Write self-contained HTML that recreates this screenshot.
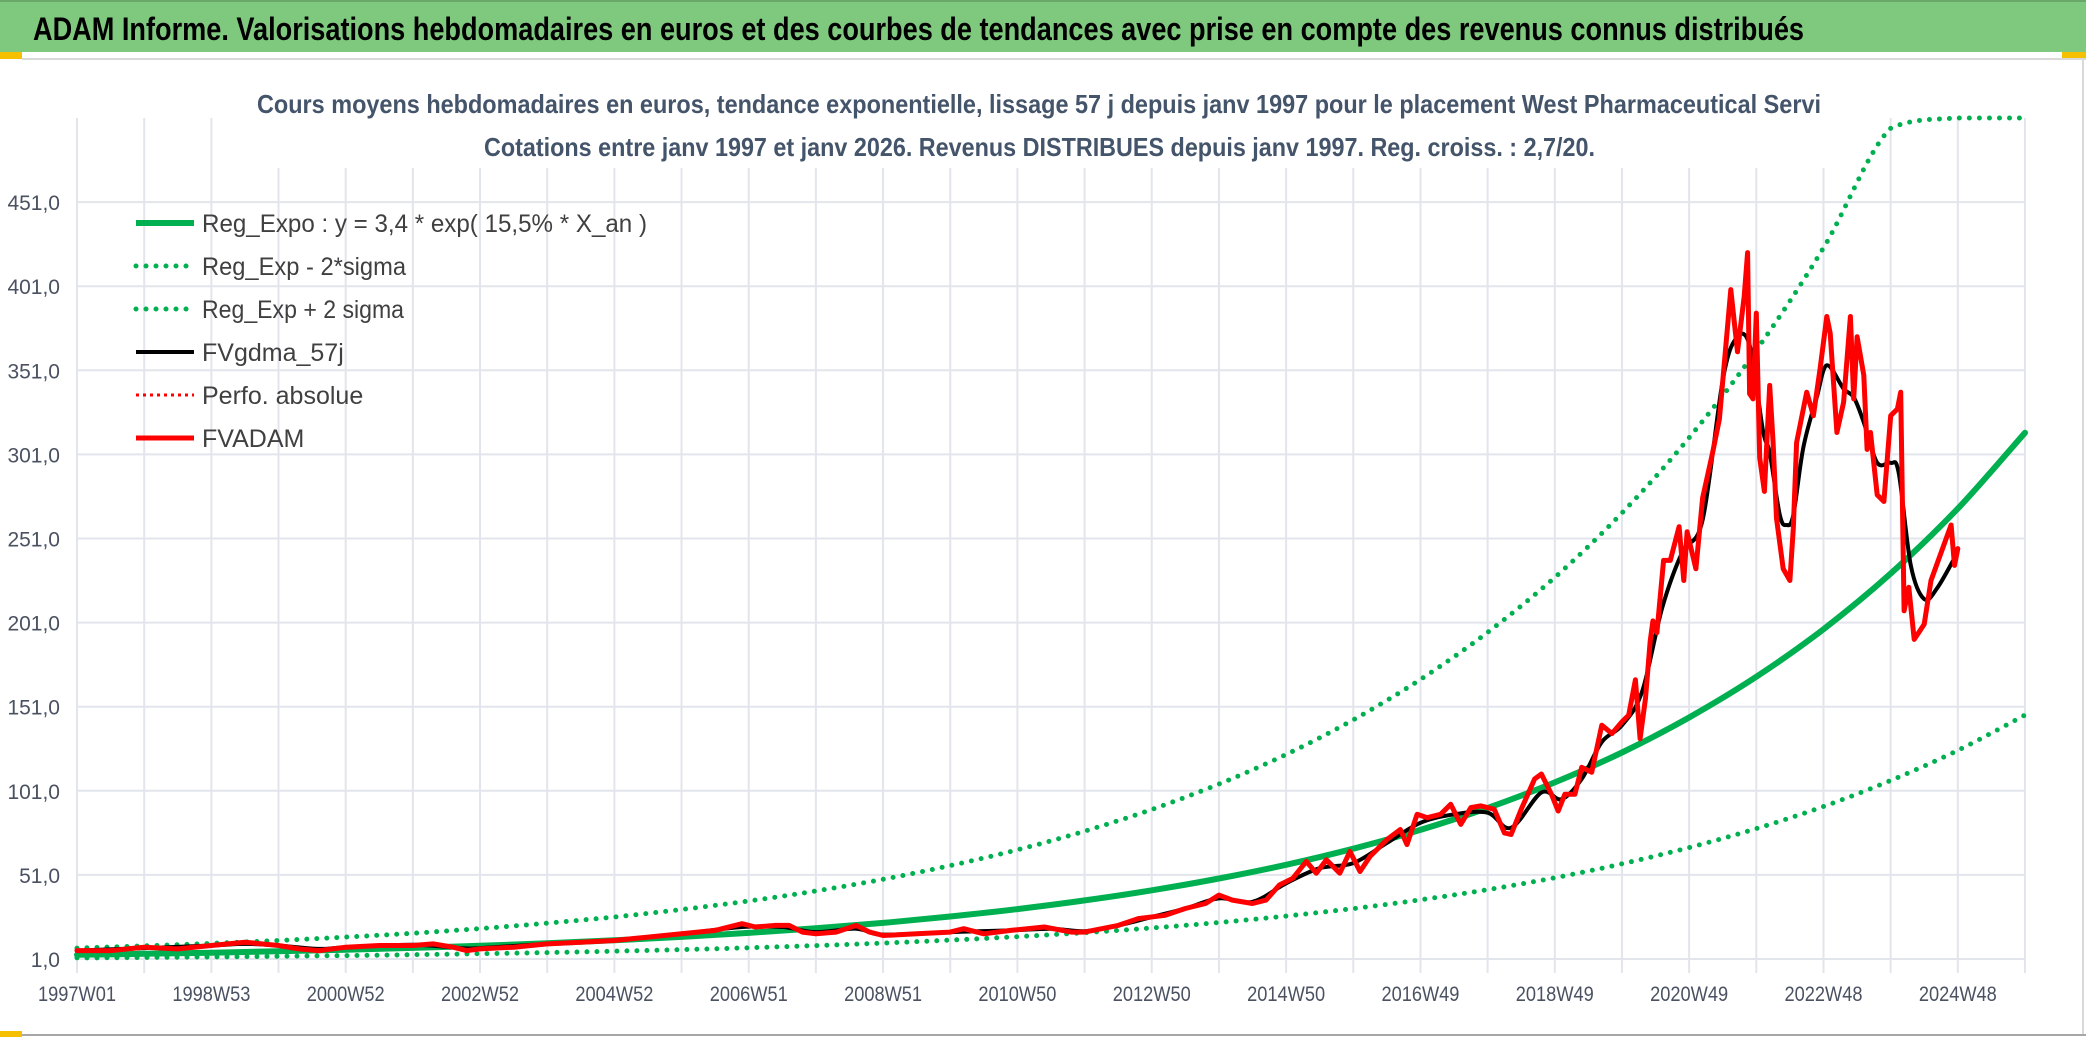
<!DOCTYPE html>
<html><head><meta charset="utf-8"><style>
html,body{margin:0;padding:0;background:#fff;}
svg{display:block;font-family:"Liberation Sans",sans-serif;}
</style></head><body>
<svg id="chart" width="2086" height="1037" viewBox="0 0 2086 1037" xmlns="http://www.w3.org/2000/svg">
  <rect x="0" y="0" width="2086" height="52" fill="#7fc97f"/>
  <line x1="0" y1="1" x2="2086" y2="1" stroke="#6aa86a" stroke-width="2"/>
  <text x="33" y="40" font-size="32" font-weight="bold" fill="#000" textLength="1771" lengthAdjust="spacingAndGlyphs">ADAM Informe. Valorisations hebdomadaires en euros et des courbes de tendances avec prise en compte des revenus connus distribués</text>
  <rect x="0" y="52" width="22" height="7" fill="#f5c000"/>
  <rect x="2062" y="52" width="24" height="7" fill="#f5c000"/>
  <line x1="22" y1="59" x2="2086" y2="59" stroke="#d9d9d9" stroke-width="2"/>
  <line x1="2083" y1="59" x2="2083" y2="1035" stroke="#d9d9d9" stroke-width="2"/>
  <line x1="0" y1="1035" x2="2086" y2="1035" stroke="#a6a6a6" stroke-width="2"/>
  <rect x="0" y="1031" width="22" height="6" fill="#f5c000"/>
  <g id="grid"></g>
  <rect x="250" y="80" width="1580" height="88" fill="#fff"/>
  <text x="257" y="113" font-size="26" font-weight="bold" fill="#44546a" textLength="1564" lengthAdjust="spacingAndGlyphs">Cours moyens hebdomadaires en euros, tendance exponentielle, lissage 57 j depuis janv 1997 pour le placement West Pharmaceutical Servi</text>
  <text x="484" y="156" font-size="26" font-weight="bold" fill="#44546a" textLength="1111" lengthAdjust="spacingAndGlyphs">Cotations entre janv 1997 et janv 2026. Revenus DISTRIBUES depuis janv 1997. Reg. croiss. : 2,7/20.</text>
  <g id="axes"></g>
  <g id="series"></g>
  <g id="legend"></g>
</svg>
<script>
// ---- data ----
const trendYears = [1997,1998,1999,2000,2001,2002,2003,2004,2005,2006,2007,2008,2009,2010,2011,2012,2013,2014,2015,2016,2017,2018,2019,2020,2021,2022,2023,2024,2025,2026];
const trendValues = [3.50,4.09,4.77,5.57,6.51,7.60,8.87,10.36,12.10,14.13,16.50,19.26,22.49,26.27,30.67,35.82,41.82,48.84,57.03,66.59,77.76,90.80,106.0,123.8,144.6,168.8,197.1,230.2,268.8,313.9];
const upperValues = [7.5,8.8,10.3,12.0,14.0,16.3,19.1,22.3,26.0,30.4,35.5,41.4,48.4,56.5,65.9,77.0,89.9,105.0,122.6,143.2,167.2,195.2,227.9,266.2,310.9,362.9,423.8,494.9,577.9,674.9];
const lowerValues = [1.63,1.90,2.22,2.59,3.03,3.53,4.13,4.82,5.63,6.57,7.67,8.96,10.46,12.22,14.27,16.66,19.45,22.72,26.53,30.97,36.17,42.23,49.30,57.58,67.26,78.51,91.67,107.1,125.0,146.0];
const redDates = [1997.0,1997.5,1998.0,1998.5,1999.0,1999.5,2000.0,2000.3,2000.6,2001.0,2001.5,2002.0,2002.3,2002.6,2002.8,2003.0,2003.5,2004.0,2004.5,2005.0,2005.5,2006.0,2006.5,2006.9,2007.1,2007.4,2007.6,2007.8,2008.0,2008.3,2008.6,2008.8,2009.0,2009.5,2010.0,2010.2,2010.5,2010.9,2011.4,2011.8,2012.0,2012.5,2012.8,2013.2,2013.5,2013.8,2014.0,2014.2,2014.5,2014.7,2014.9,2015.1,2015.3,2015.45,2015.6,2015.8,2015.95,2016.1,2016.25,2016.5,2016.7,2016.8,2016.95,2017.1,2017.3,2017.45,2017.6,2017.75,2017.9,2018.1,2018.25,2018.35,2018.5,2018.6,2018.7,2018.8,2018.95,2019.05,2019.15,2019.3,2019.4,2019.55,2019.7,2019.85,2020.0,2020.1,2020.2,2020.27,2020.35,2020.42,2020.46,2020.52,2020.62,2020.72,2020.85,2020.92,2020.97,2021.1,2021.2,2021.35,2021.45,2021.62,2021.72,2021.82,2021.87,2021.9,2021.95,2022.0,2022.05,2022.12,2022.2,2022.25,2022.3,2022.4,2022.5,2022.55,2022.6,2022.75,2022.85,2022.95,2023.05,2023.1,2023.2,2023.3,2023.4,2023.45,2023.5,2023.6,2023.65,2023.7,2023.8,2023.9,2024.0,2024.1,2024.15,2024.2,2024.27,2024.35,2024.5,2024.6,2024.7,2024.9,2024.95,2025.0];
const redValues = [6,6,8,7,9,11,9,7,6,8,9,9,10,8,6,7,8,10,11,12,14,16,18,22,20,21,21,17,16,17,21,17,15,16,17,19,16,18,20,17,17,21,25,27,31,34,39,36,34,36,45,49,59,52,60,52,65,53,62,72,78,69,87,85,87,93,81,91,92,90,76,75,90,99,108,111,99,89,99,99,115,112,140,135,142,146,167,132,156,190,202,195,238,238,258,226,255,233,275,302,322,399,362,395,421,337,334,385,299,279,342,308,263,233,226,257,308,338,324,352,383,373,314,332,383,334,371,348,304,314,277,273,324,328,338,208,222,191,200,226,237,259,235,245];
const blackDates = [1997,1998,1999,1999.5,2000,2000.6,2001,2002,2002.7,2003,2004,2005,2006,2006.9,2007.5,2008,2008.6,2009,2010,2010.9,2011.5,2012,2012.5,2013,2013.5,2014,2014.5,2015,2015.5,2016,2016.5,2017,2017.5,2018,2018.35,2018.8,2019.1,2019.4,2019.7,2020,2020.3,2020.6,2020.9,2021.2,2021.5,2021.7,2021.9,2022.1,2022.2,2022.35,2022.45,2022.55,2022.7,2022.9,2023.05,2023.3,2023.45,2023.6,2023.8,2024.0,2024.12,2024.3,2024.5,2024.7,2025.0];
const blackValues = [6,7.5,9,10,9,7,8,9.5,7.5,7.5,10,12,16,20,20,17,19,15.5,17,18,19,17.5,21,26,31,37,35,46,55,58,70,82,87,88,79,100,96,108,130,140,160,210,243,262,345,370,366,315,302,265,259,265,305,335,354,340,335,320,296,296,290,235,215,222,243];
const yTicks = [1,51,101,151,201,251,301,351,401,451];
const xTickLabels = ["1997W01","1998W53","2000W52","2002W52","2004W52","2006W51","2008W51","2010W50","2012W50","2014W50","2016W49","2018W49","2020W49","2022W48","2024W48"];
const legendLabels = ["Reg_Expo : y = 3,4 * exp( 15,5% *  X_an )","Reg_Exp - 2*sigma","Reg_Exp + 2 sigma","FVgdma_57j","Perfo. absolue","FVADAM"];

// ---- scales ----
const X0 = 77, X1 = 2025, T0 = 1997, T1 = 2026;
const Y0 = 959, VMIN = 1, VMAX = 501, YTOP = 118;
const X = t => X0 + (t - T0) * (X1 - X0) / (T1 - T0);
const Y = v => Y0 - (v - VMIN) * (Y0 - YTOP) / (VMAX - VMIN);
const NS = "http://www.w3.org/2000/svg";
function mk(tag, attrs, parent) {
  const e = document.createElementNS(NS, tag);
  for (const k in attrs) e.setAttribute(k, attrs[k]);
  parent.appendChild(e);
  return e;
}
const grid = document.getElementById('grid');
const axes = document.getElementById('axes');
const series = document.getElementById('series');
const legend = document.getElementById('legend');

// gridlines
for (let yr = T0; yr <= T1; yr++) {
  const l = mk('line', {x1: X(yr), x2: X(yr), y1: YTOP, y2: Y0 + 14, stroke: '#e2e5ec', 'stroke-width': 2}, grid);
  
  
}
yTicks.forEach(v => {
  const l = mk('line', {x1: X0, x2: X1, y1: Y(v), y2: Y(v), stroke: '#e2e5ec', 'stroke-width': 2}, grid);
  
  
  const t = mk('text', {x: 60, y: Y(v) + 8, 'text-anchor': 'end', 'font-size': 21, fill: '#4a5160'}, axes);
  t.textContent = v.toFixed(1).replace('.', ',');
  
  
});
xTickLabels.forEach((s, i) => {
  const t = mk('text', {x: X(T0 + 2 * i), y: 1001, 'text-anchor': 'middle', 'font-size': 21, fill: '#4a5160', textLength: 78, lengthAdjust: 'spacingAndGlyphs'}, axes);
  t.textContent = s;
  
  
});

function smoothPath(ts, vs, clampMax) {
  const p = ts.map((t, i) => [X(t), Y(Math.min(vs[i], clampMax))]);
  let d = 'M' + p[0][0].toFixed(1) + ',' + p[0][1].toFixed(1);
  for (let i = 0; i < p.length - 1; i++) {
    const p0 = p[Math.max(i - 1, 0)], p1 = p[i], p2 = p[i + 1], p3 = p[Math.min(i + 2, p.length - 1)];
    let c1y = p1[1] + (p2[1] - p0[1]) / 6, c2y = p2[1] - (p3[1] - p1[1]) / 6;
    if (clampMax < Infinity) { c1y = Math.max(c1y, YTOP); c2y = Math.max(c2y, YTOP); }
    d += ' C' + (p1[0] + (p2[0] - p0[0]) / 6).toFixed(1) + ',' + c1y.toFixed(1) + ' ' + (p2[0] - (p3[0] - p1[0]) / 6).toFixed(1) + ',' + c2y.toFixed(1) + ' ' + p2[0].toFixed(1) + ',' + p2[1].toFixed(1);
  }
  return d;
}
function linePath(ts, vs) {
  return ts.map((t, i) => (i ? 'L' : 'M') + X(t).toFixed(1) + ',' + Y(vs[i]).toFixed(1)).join(' ');
}

const lower = mk('path', {d: smoothPath(trendYears, lowerValues, Infinity), fill: 'none', stroke: '#00b050', 'stroke-width': 5, 'stroke-linecap': 'round', 'stroke-dasharray': '0 10'}, series);


const upper = mk('path', {d: smoothPath(trendYears, upperValues, VMAX), fill: 'none', stroke: '#00b050', 'stroke-width': 5, 'stroke-linecap': 'round', 'stroke-dasharray': '0 10'}, series);


const trend = mk('path', {d: smoothPath(trendYears, trendValues, Infinity), fill: 'none', stroke: '#00b050', 'stroke-width': 6, 'stroke-linecap': 'round'}, series);


const black = mk('path', {d: smoothPath(blackDates, blackValues, Infinity), fill: 'none', stroke: '#000', 'stroke-width': 4, 'stroke-linejoin': 'round'}, series);


const red = mk('path', {d: linePath(redDates, redValues), fill: 'none', stroke: '#ff0000', 'stroke-width': 5, 'stroke-linejoin': 'round', 'stroke-linecap': 'round'}, series);



// legend
const legendStyles = [
  {stroke: '#00b050', w: 6, dash: null},
  {stroke: '#00b050', w: 5, dash: '0 10'},
  {stroke: '#00b050', w: 5, dash: '0 10'},
  {stroke: '#000', w: 4, dash: null},
  {stroke: '#ff0000', w: 3, dash: '3 4'},
  {stroke: '#ff0000', w: 5, dash: null}
];
const legendWidths = [445, 204, 202, 0, 0, 0];
legendLabels.forEach((s, i) => {
  const y = 223 + i * 43;
  const g = mk('g', {}, legend);
  
  
  const st = legendStyles[i];
  const a = {x1: 136, x2: 194, y1: y, y2: y, stroke: st.stroke, 'stroke-width': st.w, 'stroke-linecap': st.dash === '0 10' ? 'round' : 'butt'};
  if (st.dash) a['stroke-dasharray'] = st.dash;
  const l = mk('line', a, g);
  
  
  const ta = {x: 202, y: y + 9, 'font-size': 25, fill: '#404040'};
  if (legendWidths[i]) { ta.textLength = legendWidths[i]; ta.lengthAdjust = 'spacingAndGlyphs'; }
  const t = mk('text', ta, g);
  t.textContent = s;
  
  
});
</script>
</body></html>
